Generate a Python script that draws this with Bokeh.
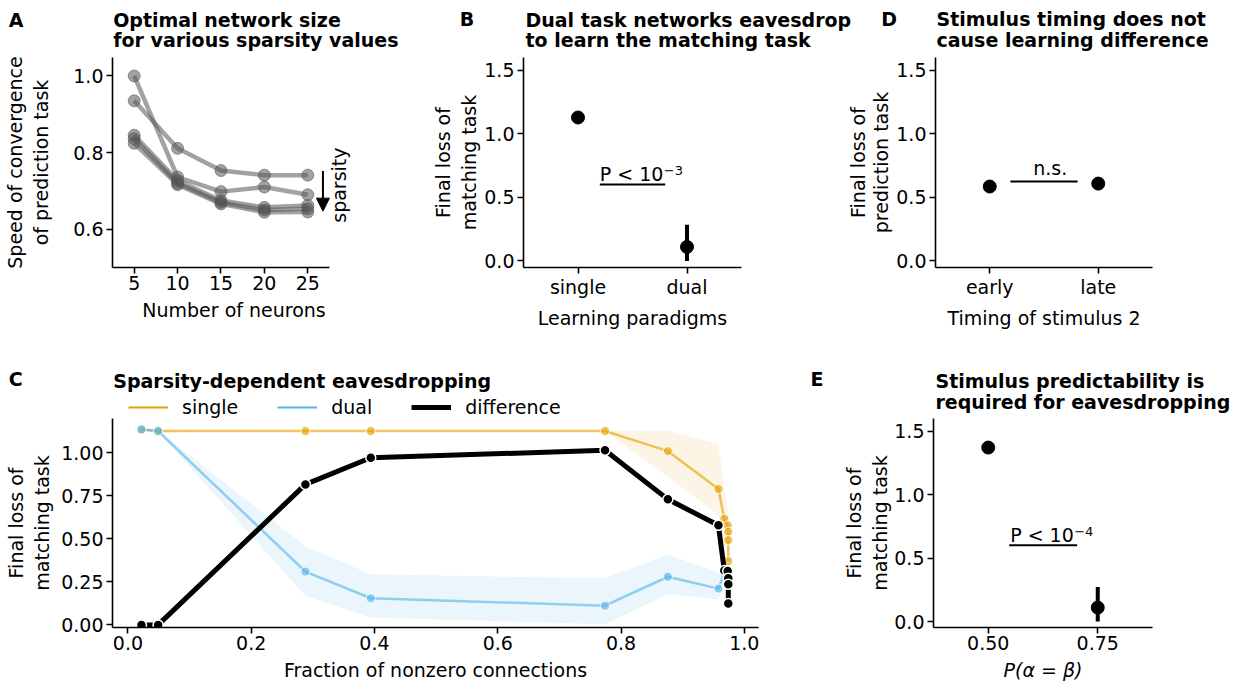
import numpy as np
from bokeh.plotting import figure
from bokeh.layouts import row, column
from bokeh.models import (Range1d, FixedTicker, Label, Arrow, NormalHead, Legend,
                          LegendItem, PrintfTickFormatter)
from bokeh.embed import file_html
from bokeh.resources import INLINE

FONT = "DejaVu Sans"
FS = "19px"
BL_FIX = 7  # px correction for alphabetic baseline placement

# ---------------- data ----------------
# Panel A
neurons = [5, 10, 15, 20, 25]
speed_sp1 = [1.000, 0.736, 0.698, 0.710, 0.690]
speed_sp2 = [0.935, 0.811, 0.753, 0.741, 0.741]
speed_sp3 = [0.845, 0.727, 0.675, 0.657, 0.662]
speed_sp4 = [0.836, 0.720, 0.670, 0.650, 0.653]
speed_sp5 = [0.824, 0.716, 0.666, 0.644, 0.645]

# Panel B
paradigm_pos = [0, 1]
paradigm_labels = ["single", "dual"]
loss_B = [1.128, 0.110]
loss_B_lo = [1.120, 0.000]
loss_B_hi = [1.136, 0.285]

# Panel D
timing_pos = [0, 1]
timing_labels = ["early", "late"]
loss_D = [0.585, 0.608]
loss_D_lo = [0.580, 0.603]
loss_D_hi = [0.590, 0.613]

# Panel C
frac_nonzero = [0.022, 0.049, 0.288, 0.394, 0.774, 0.876, 0.958, 0.9675, 0.973, 0.974, 0.974, 0.974]
single_loss = [1.136, 1.127, 1.127, 1.127, 1.127, 1.010, 0.790, 0.617, 0.579, 0.542, 0.493, 0.371]
single_hi = [1.136, 1.130, 1.127, 1.127, 1.127, 1.130, 1.050, 0.790, 0.700, 0.650, 0.600, 0.500]
single_lo = [1.136, 1.124, 1.127, 1.127, 1.127, 0.860, 0.640, 0.460, 0.460, 0.440, 0.400, 0.280]
dual_loss = [1.136, 1.127, 0.310, 0.155, 0.112, 0.280, 0.211, 0.300, 0.266, 0.270, 0.257, 0.247]
dual_hi = [1.136, 1.130, 0.458, 0.294, 0.271, 0.410, 0.304, 0.330, 0.300, 0.290, 0.280, 0.270]
dual_lo = [1.136, 1.124, 0.168, 0.043, 0.004, 0.178, 0.149, 0.270, 0.240, 0.250, 0.230, 0.220]
diff_loss = [0.000, 0.000, 0.817, 0.972, 1.015, 0.730, 0.579, 0.317, 0.313, 0.272, 0.236, 0.124]

# Panel E
p_match = [0.50, 0.75]
loss_E = [1.371, 0.110]
loss_E_lo = [1.365, 0.000]
loss_E_hi = [1.377, 0.273]

ORANGE = "#E69F00"
BLUE = "#56B4E9"
TOTAL_W = 1232


def make_fig(width, height, left, right, top, bottom, xr, yr):
    p = figure(width=width, height=height, min_border_left=left, min_border_right=right,
               min_border_top=top, min_border_bottom=bottom, x_range=xr, y_range=yr,
               output_backend="svg", toolbar_location=None, tools="")
    p.outline_line_color = None
    p.xgrid.visible = False
    p.ygrid.visible = False
    for ax in (p.xaxis[0], p.yaxis[0]):
        ax.axis_line_color = "black"
        ax.axis_line_width = 1.6
        ax.major_tick_line_color = "black"
        ax.major_tick_line_width = 1.6
        ax.major_tick_out = 6
        ax.major_tick_in = 0
        ax.minor_tick_line_color = None
        ax.major_label_text_font = FONT
        ax.major_label_text_font_size = FS
        ax.major_label_text_color = "black"
        ax.axis_label_text_font = FONT
        ax.axis_label_text_font_size = FS
        ax.axis_label_text_font_style = "normal"
        ax.axis_label_text_color = "black"
        ax.axis_label_text_line_height = 1.2
        ax.major_label_standoff = 3
        ax.axis_label_standoff = 3
    p.xaxis.major_label_standoff = 2
    p.xaxis.axis_label_standoff = 6
    return p


def header(width, height):
    h = figure(width=width, height=height, x_range=Range1d(0, width), y_range=Range1d(height, 0),
               min_border=0, output_backend="svg", toolbar_location=None, tools="",
               x_axis_type=None, y_axis_type=None)
    h.outline_line_color = None
    return h


def htext(h, x, y, text):
    h.add_layout(Label(x=x, y=y - BL_FIX, text=text, text_font=FONT, text_font_size=FS,
                       text_font_style="bold", text_baseline="alphabetic",
                       text_align="left", text_color="black"))


def ptext(p, x, y, text, size=FS, align="left", x_offset=0):
    p.add_layout(Label(x=x, y=y, x_offset=x_offset, text=text, text_font=FONT,
                       text_font_size=size, text_align=align, text_baseline="alphabetic",
                       text_color="black"))


# ---------------- header row 1 (y = page px) ----------------
H_HDR1 = 52
hdr1 = header(TOTAL_W, H_HDR1)
htext(hdr1, 8.3, 26.0, "A")
htext(hdr1, 112.7, 26.7, "Optimal network size")
htext(hdr1, 112.7, 46.7, "for various sparsity values")
htext(hdr1, 459.3, 25.7, "B")
htext(hdr1, 525.0, 26.0, "Dual task networks eavesdrop")
htext(hdr1, 525.0, 46.5, "to learn the matching task")
htext(hdr1, 880.7, 25.7, "D")
htext(hdr1, 936.0, 25.7, "Stimulus timing does not")
htext(hdr1, 936.0, 46.7, "cause learning difference")

H1, T1, B1 = 311, 5, 96

# ---------------- Panel A ----------------
pA = make_fig(369, H1, 112, 14, T1, B1, Range1d(2.5, 30.5), Range1d(0.5, 1.048))
for s in (speed_sp1, speed_sp2, speed_sp3, speed_sp4, speed_sp5):
    pA.line(neurons, s, line_width=4.5, color="#555555", alpha=0.55)
    pA.scatter(neurons, s, size=12, color="#555555", alpha=0.55)
pA.xaxis.ticker = FixedTicker(ticks=neurons)
pA.xaxis.bounds = (2.5, 27.5)
pA.yaxis.ticker = FixedTicker(ticks=[0.6, 0.8, 1.0])
pA.yaxis.formatter = PrintfTickFormatter(format="%.1f")
pA.xaxis.axis_label = "Number of neurons"
pA.yaxis.axis_label = "Speed of convergence\nof prediction task"
pA.yaxis.axis_label_standoff = 18
pA.add_layout(Arrow(x_start=26.75, y_start=0.752, x_end=26.75, y_end=0.647, line_width=2,
                    line_color="black",
                    end=NormalHead(size=13, fill_color="black", line_color="black")))
pA.add_layout(Label(x=28.6, y=0.715, text="sparsity", angle=np.pi / 2, text_font=FONT,
                    text_font_size=FS, text_align="center", text_baseline="middle",
                    text_color="black"))

# ---------------- Panel B ----------------
pB = make_fig(412, H1, 154, 40, T1, B1, Range1d(-0.5, 1.5), Range1d(-0.052, 1.6))
pB.segment(paradigm_pos, loss_B_lo, paradigm_pos, loss_B_hi, line_width=4, color="black")
pB.scatter(paradigm_pos, loss_B, size=13, color="black")
pB.segment([0.2], [0.6], [0.8], [0.6], line_width=2, color="black")
ptext(pB, 0.2, 0.681, "P < 10")
ptext(pB, 0.2, 0.711, "\u22123", size="13px", x_offset=64)
pB.xaxis.ticker = FixedTicker(ticks=paradigm_pos)
pB.xaxis.major_label_overrides = {0: paradigm_labels[0], 1: paradigm_labels[1]}
pB.yaxis.ticker = FixedTicker(ticks=[0.0, 0.5, 1.0, 1.5])
pB.yaxis.formatter = PrintfTickFormatter(format="%.1f")
pB.xaxis.axis_label = "Learning paradigms"
pB.yaxis.axis_label = "Final loss of\nmatching task"
pB.yaxis.axis_label_standoff = 1

# ---------------- Panel D ----------------
pD = make_fig(411, H1, 154, 40, T1, B1, Range1d(-0.5, 1.5), Range1d(-0.052, 1.6))
pD.segment(timing_pos, loss_D_lo, timing_pos, loss_D_hi, line_width=4, color="black")
pD.scatter(timing_pos, loss_D, size=13, color="black")
pD.segment([0.19], [0.624], [0.81], [0.624], line_width=2, color="black")
ptext(pD, 0.557, 0.732, "n.s.", align="center")
pD.xaxis.ticker = FixedTicker(ticks=timing_pos)
pD.xaxis.major_label_overrides = {0: timing_labels[0], 1: timing_labels[1]}
pD.yaxis.ticker = FixedTicker(ticks=[0.0, 0.5, 1.0, 1.5])
pD.yaxis.formatter = PrintfTickFormatter(format="%.1f")
pD.xaxis.axis_label = "Timing of stimulus 2"
pD.yaxis.axis_label = "Final loss of\nprediction task"
pD.yaxis.axis_label_standoff = 1
pD.yaxis.axis_label_text_line_height = 1.05

# ---------------- header row 2 (y = page px - 363) ----------------
H_HDR2 = 55
hdr2 = header(TOTAL_W, H_HDR2)
htext(hdr2, 8.3, 22.7, "C")
htext(hdr2, 112.7, 24.3, "Sparsity-dependent eavesdropping")
htext(hdr2, 810.0, 22.7, "E")
htext(hdr2, 935.0, 24.3, "Stimulus predictability is")
htext(hdr2, 935.0, 45.3, "required for eavesdropping")
l_single = hdr2.line([np.nan, np.nan], [np.nan, np.nan], line_width=2, color=ORANGE)
l_dual = hdr2.line([np.nan, np.nan], [np.nan, np.nan], line_width=2, color=BLUE)
l_diff = hdr2.line([np.nan, np.nan], [np.nan, np.nan], line_width=5, color="black")
leg = Legend(items=[LegendItem(label="single", renderers=[l_single]),
                    LegendItem(label="dual", renderers=[l_dual]),
                    LegendItem(label="difference", renderers=[l_diff])],
             orientation="horizontal", location=(128, 0), border_line_color=None,
             background_fill_alpha=0, label_text_font=FONT, label_text_font_size=FS,
             glyph_width=40, glyph_height=14, label_height=14, label_standoff=14,
             spacing=39, padding=0, margin=0, label_text_color="black")
hdr2.add_layout(leg)

H2, T2, B2 = 265, 0, 55

# ---------------- Panel C ----------------
pC = make_fig(778, H2, 112, 20, T2, B2, Range1d(-0.025, 1.023), Range1d(-0.015, 1.2))
pC.varea(frac_nonzero, single_lo, single_hi, fill_color=ORANGE, fill_alpha=0.1)
pC.varea(frac_nonzero, dual_lo, dual_hi, fill_color=BLUE, fill_alpha=0.12)
pC.line(frac_nonzero, single_loss, line_width=2.5, color=ORANGE, alpha=0.62)
pC.scatter(frac_nonzero, single_loss, size=9, fill_color=ORANGE, fill_alpha=0.65,
           line_color="white", line_width=0.8)
pC.line(frac_nonzero, dual_loss, line_width=2.5, color=BLUE, alpha=0.62)
pC.scatter(frac_nonzero, dual_loss, size=9, fill_color=BLUE, fill_alpha=0.65,
           line_color="white", line_width=0.8)
pC.line(frac_nonzero, diff_loss, line_width=5, color="black")
pC.scatter(frac_nonzero, diff_loss, size=10, fill_color="black", line_color="white",
           line_width=1.5)
pC.xaxis.ticker = FixedTicker(ticks=[0.0, 0.2, 0.4, 0.6, 0.8, 1.0])
pC.xaxis.formatter = PrintfTickFormatter(format="%.1f")
pC.yaxis.ticker = FixedTicker(ticks=[0.0, 0.25, 0.5, 0.75, 1.0])
pC.yaxis.formatter = PrintfTickFormatter(format="%.2f")
pC.xaxis.axis_label = "Fraction of nonzero connections"
pC.yaxis.axis_label = "Final loss of\nmatching task"
pC.yaxis.axis_label_standoff = 5

# ---------------- Panel E ----------------
pE = make_fig(414, H2, 155, 40, T2, B2, Range1d(0.375, 0.875), Range1d(-0.047, 1.6))
pE.segment(p_match, loss_E_lo, p_match, loss_E_hi, line_width=4, color="black")
pE.scatter(p_match, loss_E, size=13, color="black")
pE.segment([0.548], [0.601], [0.703], [0.601], line_width=2, color="black")
ptext(pE, 0.55, 0.682, "P < 10")
ptext(pE, 0.55, 0.712, "\u22124", size="13px", x_offset=64)
pE.xaxis.ticker = FixedTicker(ticks=p_match)
pE.xaxis.formatter = PrintfTickFormatter(format="%.2f")
pE.yaxis.ticker = FixedTicker(ticks=[0.0, 0.5, 1.0, 1.5])
pE.yaxis.formatter = PrintfTickFormatter(format="%.1f")
pE.xaxis.axis_label = "P(\u03b1 = \u03b2)"
pE.xaxis.axis_label_text_font_style = "italic"
pE.yaxis.axis_label = "Final loss of\nmatching task"
pE.yaxis.axis_label_standoff = 0

layout = column(hdr1, row(pA, pB, pD), hdr2, row(pC, pE))
open("out.html", "w").write(file_html(layout, INLINE))
